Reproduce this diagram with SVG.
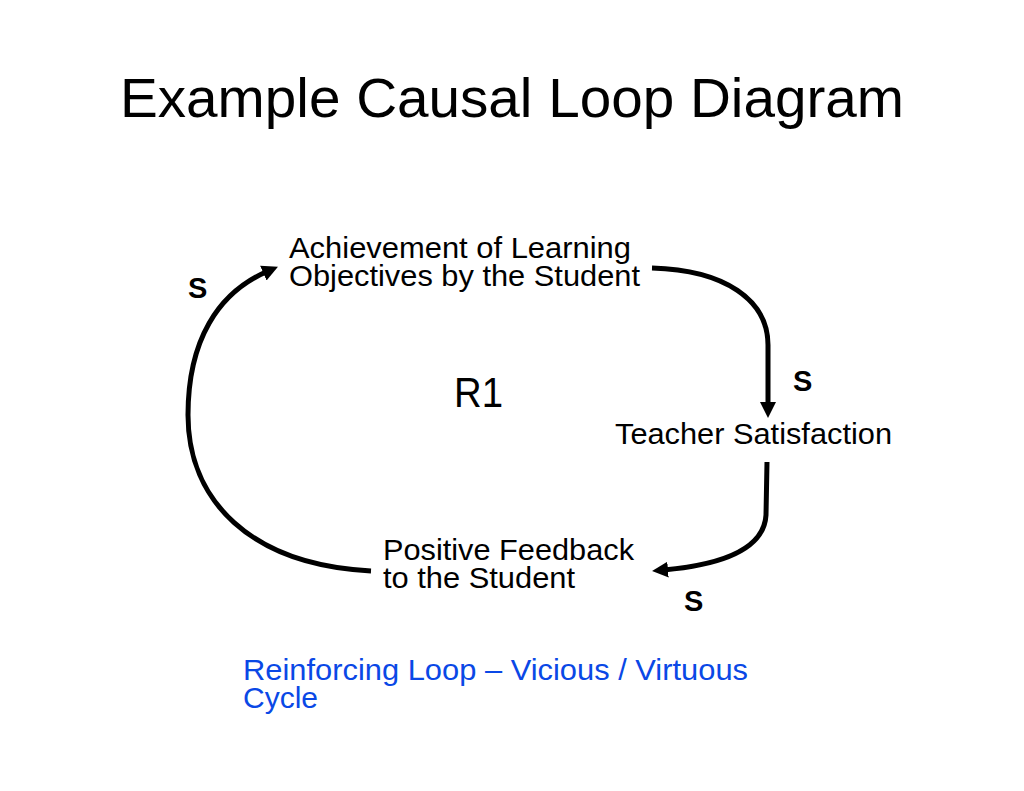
<svg xmlns="http://www.w3.org/2000/svg" width="1024" height="791" viewBox="0 0 1024 791">
<style>
text{font-family:"Liberation Sans",Arial,sans-serif;fill:#000}
.node{font-size:30px}
.s{font-size:29px;font-weight:bold}
.cap{font-size:30px;fill:#0a48e6}
.link{fill:none;stroke:#000;stroke-width:5}
</style>
<defs>
<marker id="ah" markerUnits="userSpaceOnUse" markerWidth="20" markerHeight="20" viewBox="0 0 20 20" refX="4" refY="10" orient="auto">
<path d="M0,2 L16,10 L0,18 Z" fill="#000"/>
</marker>
</defs>
<rect width="1024" height="791" fill="#fff"/>
<text x="120" y="117" font-size="55" textLength="784" lengthAdjust="spacingAndGlyphs">Example Causal Loop Diagram</text>
<g id="connectors">
<path class="link" d="M652,268 C725,270 768,300 768,345 L768,406" marker-end="url(#ah)"/>
<path class="link" d="M767,462 L766,515 C764,550 720,565 664,570" marker-end="url(#ah)"/>
<path class="link" d="M371,571 C250,565 188,500 188,415 C188,340 218,293 267,271.5" marker-end="url(#ah)"/>
</g>
<g id="node-achievement">
<text class="node" x="289" y="258" textLength="342" lengthAdjust="spacingAndGlyphs">Achievement of Learning</text>
<text class="node" x="289" y="286" textLength="351" lengthAdjust="spacingAndGlyphs">Objectives by the Student</text>
</g>
<g id="node-teacher">
<text class="node" x="615" y="444" textLength="277" lengthAdjust="spacingAndGlyphs">Teacher Satisfaction</text>
</g>
<g id="node-feedback">
<text class="node" x="383" y="560" textLength="251" lengthAdjust="spacingAndGlyphs">Positive Feedback</text>
<text class="node" x="383" y="588" textLength="192" lengthAdjust="spacingAndGlyphs">to the Student</text>
</g>
<g id="labels">
<text class="s" x="188" y="298">S</text>
<text class="s" x="793" y="391">S</text>
<text class="s" x="684" y="611">S</text>
<text x="454" y="407" font-size="42" textLength="49" lengthAdjust="spacingAndGlyphs">R1</text>
</g>
<g id="caption">
<text class="cap" x="243" y="680" textLength="505" lengthAdjust="spacingAndGlyphs">Reinforcing Loop – Vicious / Virtuous</text>
<text class="cap" x="243" y="708" textLength="75" lengthAdjust="spacingAndGlyphs">Cycle</text>
</g>
</svg>
